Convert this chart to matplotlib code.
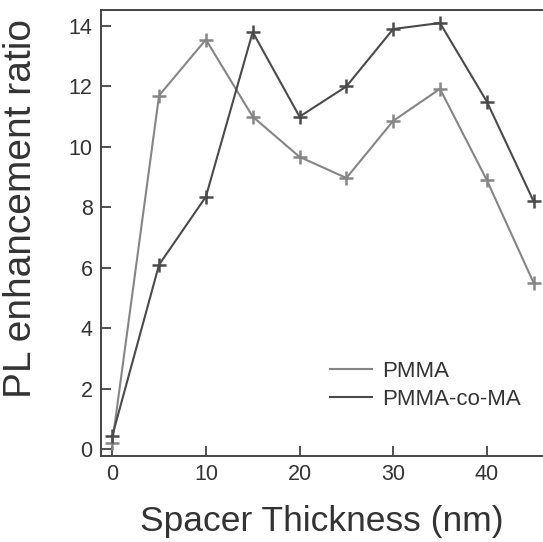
import matplotlib
matplotlib.use("Agg")
import matplotlib.pyplot as plt

thickness = [0, 5, 10, 15, 20, 25, 30, 35, 40, 45]
pmma = [0.2, 11.7, 13.55, 11.0, 9.67, 8.97, 10.86, 11.92, 8.9, 5.5]
pmma_co_ma = [0.43, 6.1, 8.35, 13.8, 11.0, 12.0, 13.9, 14.1, 11.5, 8.2]
xticks = [0, 10, 20, 30, 40]
yticks = [0, 2, 4, 6, 8, 10, 12, 14]

plt.rcParams['font.family'] = ['Liberation Sans', 'DejaVu Sans']

W, H = 543, 542
fig = plt.figure(figsize=(W / 100, H / 100), dpi=100)
ax = fig.add_axes([101 / W, 1 - 456 / H, 1 - 101 / W, (456 - 10) / H])

c1 = '#858585'
c2 = '#4a4a4a'
ax.plot(thickness, pmma, color=c1, lw=1.5, marker='+', ms=10, mew=1.8, label='PMMA')
ax.plot(thickness, pmma_co_ma, color=c2, lw=1.5, marker='+', ms=10, mew=1.8, label='PMMA-co-MA')

ax.set_xlim(-1.2, 46.0)
ax.set_ylim(-0.23, 14.53)
ax.set_xticks(xticks)
ax.set_yticks(yticks)
ax.tick_params(direction='in', length=7, width=1.2, colors='#333333', labelsize=15.5, pad=6)
for s in ['left', 'top', 'bottom']:
    ax.spines[s].set_color('#444444')
    ax.spines[s].set_linewidth(1.4)
ax.spines['right'].set_visible(False)

ax.set_xlabel('Spacer Thickness (nm)', fontsize=25.5, color='#333333', labelpad=14)
ax.set_ylabel('PL enhancement ratio', fontsize=28, color='#333333')
ax.yaxis.set_label_coords(-0.14, 0.554)

leg = ax.legend(loc='upper left', bbox_to_anchor=(330 / W, 1 - 361 / H),
                bbox_transform=fig.transFigure, frameon=False, fontsize=16,
                handlelength=1.9, handletextpad=0.45, labelspacing=0.3,
                borderpad=0, borderaxespad=0)
for h in leg.legend_handles:
    h.set_marker('')
for t in leg.get_texts():
    t.set_color('#333333')

fig.savefig('out.png', dpi=100)
